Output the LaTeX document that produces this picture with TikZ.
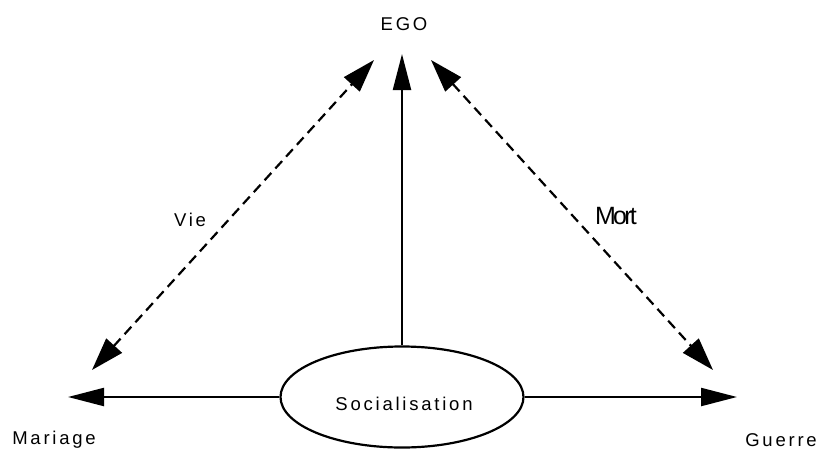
\documentclass[tikz,border=0pt]{standalone}
\usepackage{fontspec}
\setmainfont{Liberation Sans}
\usetikzlibrary{arrows.meta,shapes.geometric}
\begin{document}
\begin{tikzpicture}[x=1pt,y=-1pt,
  lbl/.style={inner sep=0pt,font=\fontsize{18.5}{21}\selectfont\addfontfeature{LetterSpace=15}},
  solidarrow/.style={line width=2.2pt,-{Triangle[length=36pt,width=18pt]}},
  dasharrow/.style={line width=2.2pt,dash pattern=on 10pt off 6pt,{Triangle[length=33pt,width=21pt]}-{Triangle[length=33pt,width=21pt]}},
  ell/.style={draw,ellipse,line width=2.2pt,minimum width=243pt,minimum height=101pt,inner sep=0pt}]
\useasboundingbox (0,0) rectangle (819,450);
\node[ell] (soc) at (402,397) {};
\node[lbl] (soctxt) at (404,404) {Socialisation};
\node[lbl] (ego) at (404,24) {EGO};
\node[lbl] (mar) at (54,440) {Mariage};
\node[lbl] (gue) at (781,440) {Guerre};
\node[lbl] (vie) at (190,220) {Vie};
\node[inner sep=0pt,font=\fontsize{25}{29}\selectfont\addfontfeature{LetterSpace=-11}] (mort) at (616,216) {Mort};
\coordinate (egoT) at (402,54);
\coordinate (egoL) at (374,60);
\coordinate (egoR) at (431,60);
\coordinate (marD) at (92,370);
\coordinate (gueD) at (713,370);
\coordinate (marH) at (68,397);
\coordinate (gueH) at (737,397);
\draw[solidarrow] (soc.north) -- (egoT);
\draw[solidarrow] (soc.west) -- (marH);
\draw[solidarrow] (soc.east) -- (gueH);
\draw[dasharrow] (marD) -- (egoL);
\draw[dasharrow] (egoR) -- (gueD);
\end{tikzpicture}
\end{document}
